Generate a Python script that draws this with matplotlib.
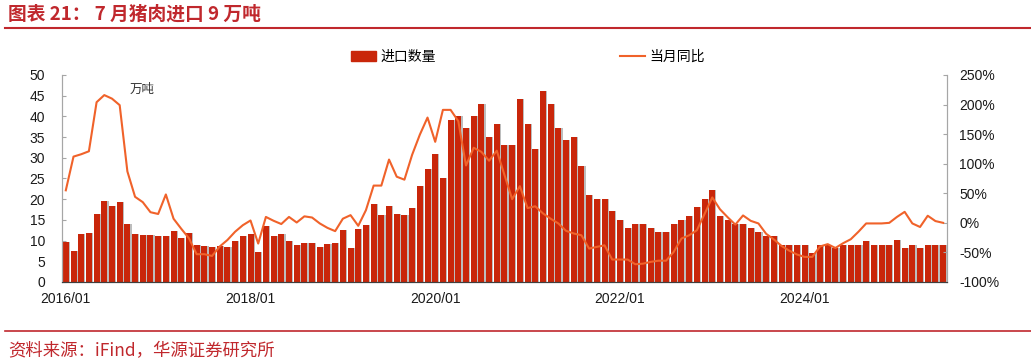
import numpy as np
import matplotlib
matplotlib.use("Agg")
import matplotlib.pyplot as plt
from matplotlib.lines import Line2D
from matplotlib.patches import Patch

plt.rcParams['font.family'] = ['Liberation Sans', 'Noto Sans CJK SC', 'DejaVu Sans']

# monthly data, 2016/01 .. 2025/07
imports = [9.7, 7.6, 11.5, 11.9, 16.4, 19.6, 18.4, 19.3, 14.1, 11.7, 11.4, 11.4,
           11.2, 11.0, 12.4, 10.7, 11.9, 9.0, 8.8, 8.5, 8.8, 8.5, 10.0, 11.2,
           11.7, 7.3, 13.6, 11.0, 11.6, 10.0, 9.0, 9.4, 9.5, 8.4, 9.2, 9.5,
           12.6, 8.2, 12.7, 13.8, 18.8, 16.1, 18.4, 16.4, 16.2, 17.9, 23.1, 27.2,
           31.0, 25.1, 39.1, 40.2, 37.3, 40.2, 43.1, 35.1, 38.1, 33.1, 33.1, 44.2,
           38.1, 32.2, 46.2, 43.1, 37.2, 34.2, 35.1, 28.1, 21.1, 20.1, 20.1, 17.2,
           15.0, 13.1, 14.0, 14.0, 13.1, 12.1, 12.1, 14.0, 15.0, 16.0, 18.1, 20.1,
           22.1, 16.0, 15.0, 14.0, 14.0, 13.1, 12.1, 11.1, 11.1, 9.0, 9.0, 9.0,
           9.0, 7.1, 9.0, 9.0, 8.1, 9.0, 9.0, 9.0, 10.0, 9.0, 9.0, 9.0,
           10.1, 8.1, 9.0, 8.1, 9.0, 9.0, 9.0]
yoy = [55, 112, 116, 121, 204, 216, 210, 199, 87, 44, 35, 18,
       15, 48, 7, -10, -26, -53, -53, -56, -40, -29, -15, -4,
       4, -35, 10, 3.5, -2, 10, 0.6, 11, 9, -1, -8.5, -14,
       7, 13, -5, 21.5, 63, 63, 107, 78, 73, 115, 149, 178,
       137, 191, 191, 172, 97, 127, 120, 105, 122, 81, 40, 62,
       25, 28, 16, 7, -1, -13.5, -18, -21, -43.5, -40.6, -38, -62,
       -62, -62, -70, -69, -66, -64, -64, -49, -26.5, -21, -12.5, 15,
       43, 23, 9.5, -3, 12.5, 3.4, -1, -18.5, -28, -39, -47, -53.5,
       -57.6, -57.6, -40, -36, -42.5, -34.5, -27.7, -15, -1, -1, -1, 0,
       10, 18.6, -1, -7, 12, 3, 0]
tick_pos = [0, 24, 48, 72, 96]
tick_labels = ['2016/01', '2018/01', '2020/01', '2022/01', '2024/01']

bar_color = '#C9260A'
line_color = '#F0622A'
red = '#C0282D'

fig = plt.figure(figsize=(10.31, 3.64), dpi=100)
ax = fig.add_axes([0.0601, 0.2253, 0.8584, 0.5687])
ax2 = ax.twinx()

x = np.arange(len(imports))
ax.bar(x + 0.16, imports, width=0.78, color='#BDBDBD', zorder=1)
ax.bar(x, imports, width=0.78, color=bar_color, zorder=2)
ax2.plot(x, yoy, color=line_color, lw=1.5)

ax.set_xlim(-0.5, len(imports) - 0.5)
ax.set_ylim(0, 50)
ax.set_yticks(range(0, 51, 5))
ax2.set_ylim(-100, 250)
ax2.set_yticks(range(-100, 251, 50))
ax2.set_yticklabels([f'{v}%' for v in range(-100, 251, 50)])
ax.set_xticks(tick_pos)
ax.set_xticklabels(tick_labels)

for a in (ax, ax2):
    a.spines['top'].set_visible(False)
    a.spines['left'].set_color('#A6A6A6')
    a.spines['right'].set_color('#A6A6A6')
    a.spines['bottom'].set_color('#404040')
    a.tick_params(labelsize=10, colors='#A6A6A6', labelcolor='#1a1a1a',
                  direction='in', length=3)
ax.tick_params(axis='y', pad=12)
ax2.tick_params(axis='y', pad=9)
ax.tick_params(axis='x', pad=7, colors='#404040', labelcolor='#1a1a1a')

ax.text(8.3, 46.5, '万吨', fontsize=9, color='#333333', va='center',
        family=['Noto Sans CJK SC'])

handles = [Patch(color=bar_color), Line2D([], [], color=line_color, lw=1.5)]
fig.legend(handles, ['进口数量', '当月同比'], loc='center', bbox_to_anchor=(0.512, 0.843),
           ncol=2, frameon=False, columnspacing=13.3,
           handlelength=1.8, handletextpad=0.3, prop={'family': 'Noto Sans CJK SC', 'size': 10})

fig.text(0.008, 0.961, '图表 21： 7 月猪肉进口 9 万吨', fontsize=13.5, fontweight='bold',
         color=red, va='center', family=['Noto Sans CJK SC'])
fig.add_artist(Line2D([0.005, 1.0], [0.923, 0.923], color=red, lw=1.5))
fig.add_artist(Line2D([0.005, 1.0], [0.0907, 0.0907], color=red, lw=1.2))
fig.text(0.008, 0.036, '资料来源：iFind，华源证券研究所', fontsize=12.5, color=red,
         va='center', family=['Noto Sans CJK SC'])

fig.savefig('out.png', dpi=100)
